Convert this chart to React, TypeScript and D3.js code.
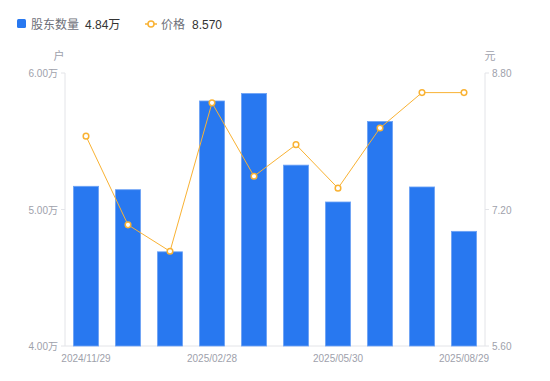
import React from "react";
import * as d3 from "d3";

const categories = ["2024/11/29","2024/12/31","2025/01/24","2025/02/28","2025/03/31","2025/04/30","2025/05/30","2025/06/30","2025/07/31","2025/08/29"];
const holders = [5.17, 5.145, 4.69, 5.795, 5.85, 5.325, 5.055, 5.645, 5.165, 4.84];
const prices = [8.06, 7.02, 6.71, 8.45, 7.59, 7.96, 7.45, 8.155, 8.57, 8.57];
const leftTicks = [4, 5, 6];
const rightTicks = [5.6, 7.2, 8.8];
const xLabelIdx = [0, 3, 6, 9];

export default function App() {
  const W = 550, H = 381;
  const left = 65, right = 485, top = 73, bottom = 346;
  const x = d3.scaleBand<string>().domain(categories).range([left, right]).paddingInner(0).paddingOuter(0);
  const yL = d3.scaleLinear().domain([4, 6]).range([bottom, top]);
  const yR = d3.scaleLinear().domain([5.6, 8.8]).range([bottom, top]);
  const bw = x.bandwidth() * 0.6;
  const cx = (c: string) => (x(c) as number) + x.bandwidth() / 2;
  const line = d3.line<number>().x((_, i) => cx(categories[i])).y(d => yR(d));
  const tickColor = "#9ea1ab";
  const axisColor = "#e3e4e8";
  const font = "'Liberation Sans', 'Noto Sans CJK SC', sans-serif";
  return (
    <svg width={W} height={H} style={{ position: "absolute", left: 0, top: 0 }} fontFamily={font}>
      {/* legend */}
      <rect x={17} y={19} width={9} height={9} rx={1.5} fill="#2878f0" />
      <text x={31} y={28.5} fontSize={12} fill="#6e7079">股东数量</text>
      <text x={85} y={28.5} fontSize={12} fill="#333">4.84万</text>
      <line x1={145} x2={157} y1={24} y2={24} stroke="#f9b233" strokeWidth={1.5} />
      <circle cx={151} cy={24} r={3} fill="#fff" stroke="#f9b233" strokeWidth={1.5} />
      <text x={161} y={28.5} fontSize={12} fill="#6e7079">价格</text>
      <text x={192} y={28.5} fontSize={12} fill="#333">8.570</text>
      {/* units */}
      <text x={59} y={60} fontSize={11} fill={tickColor} textAnchor="middle">户</text>
      <text x={490} y={60} fontSize={11} fill={tickColor} textAnchor="middle">元</text>
      {/* axes */}
      <line x1={left} x2={left} y1={top} y2={bottom} stroke={axisColor} />
      <line x1={right} x2={right} y1={top} y2={bottom} stroke={axisColor} />
      <line x1={left} x2={right} y1={bottom} y2={bottom} stroke={axisColor} />
      {leftTicks.map(t => (
        <g key={"l" + t}>
          <line x1={left - 4} x2={left} y1={yL(t)} y2={yL(t)} stroke={axisColor} />
          <text x={left - 7} y={yL(t) + 4} fontSize={10} fill={tickColor} textAnchor="end">{t.toFixed(2) + "万"}</text>
        </g>
      ))}
      {rightTicks.map(t => (
        <g key={"r" + t}>
          <line x1={right} x2={right + 4} y1={yR(t)} y2={yR(t)} stroke={axisColor} />
          <text x={right + 7} y={yR(t) + 4} fontSize={10} fill={tickColor} textAnchor="start">{t.toFixed(2)}</text>
        </g>
      ))}
      {xLabelIdx.map(i => (
        <text key={"x" + i} x={cx(categories[i])} y={362} fontSize={10} fill={tickColor} textAnchor="middle">{categories[i]}</text>
      ))}
      {/* bars */}
      {holders.map((v, i) => (
        <rect key={"b" + i} x={cx(categories[i]) - bw / 2} y={yL(v)} width={bw} height={bottom - yL(v)}
          fill="#2878f0" stroke="#6ea3f5" strokeWidth={0.8} />
      ))}
      {/* line */}
      <path d={line(prices) || ""} fill="none" stroke="#f9b233" strokeWidth={1} />
      {prices.map((v, i) => (
        <circle key={"p" + i} cx={cx(categories[i])} cy={yR(v)} r={2.8} fill="#fff" stroke="#f9b233" strokeWidth={1.5} />
      ))}
    </svg>
  );
}
